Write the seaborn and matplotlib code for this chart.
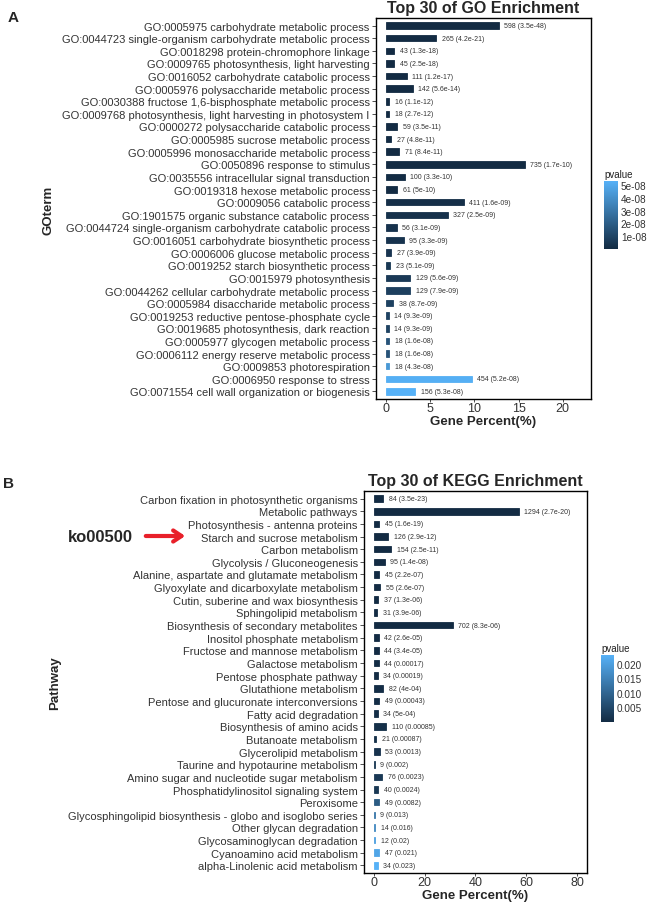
import numpy as np
import pandas as pd
import matplotlib as mpl
import matplotlib.pyplot as plt
import seaborn as sns
from matplotlib.colors import LinearSegmentedColormap, Normalize

# ---- GO enrichment (panel A) ----
go_terms = [
    "GO:0005975 carbohydrate metabolic process",
    "GO:0044723 single-organism carbohydrate metabolic process",
    "GO:0018298 protein-chromophore linkage",
    "GO:0009765 photosynthesis, light harvesting",
    "GO:0016052 carbohydrate catabolic process",
    "GO:0005976 polysaccharide metabolic process",
    "GO:0030388 fructose 1,6-bisphosphate metabolic process",
    "GO:0009768 photosynthesis, light harvesting in photosystem I",
    "GO:0000272 polysaccharide catabolic process",
    "GO:0005985 sucrose metabolic process",
    "GO:0005996 monosaccharide metabolic process",
    "GO:0050896 response to stimulus",
    "GO:0035556 intracellular signal transduction",
    "GO:0019318 hexose metabolic process",
    "GO:0009056 catabolic process",
    "GO:1901575 organic substance catabolic process",
    "GO:0044724 single-organism carbohydrate catabolic process",
    "GO:0016051 carbohydrate biosynthetic process",
    "GO:0006006 glucose metabolic process",
    "GO:0019252 starch biosynthetic process",
    "GO:0015979 photosynthesis",
    "GO:0044262 cellular carbohydrate metabolic process",
    "GO:0005984 disaccharide metabolic process",
    "GO:0019253 reductive pentose-phosphate cycle",
    "GO:0019685 photosynthesis, dark reaction",
    "GO:0005977 glycogen metabolic process",
    "GO:0006112 energy reserve metabolic process",
    "GO:0009853 photorespiration",
    "GO:0006950 response to stress",
    "GO:0071554 cell wall organization or biogenesis",
]
go_counts = [598, 265, 43, 45, 111, 142, 16, 18, 59, 27, 71, 735, 100, 61, 411,
             327, 56, 95, 27, 23, 129, 129, 38, 14, 14, 18, 18, 18, 454, 156]
go_pvalues = ["3.5e-48", "4.2e-21", "1.3e-18", "2.5e-18", "1.2e-17", "5.6e-14",
              "1.1e-12", "2.7e-12", "3.5e-11", "4.8e-11", "8.4e-11", "1.7e-10",
              "3.3e-10", "5e-10", "1.6e-09", "2.5e-09", "3.1e-09", "3.3e-09",
              "3.9e-09", "5.1e-09", "5.6e-09", "7.9e-09", "8.7e-09", "9.3e-09",
              "9.3e-09", "1.6e-08", "1.6e-08", "4.3e-08", "5.2e-08", "5.3e-08"]
go_percent = [12.78, 5.66, 0.92, 0.96, 2.37, 3.03, 0.34, 0.38, 1.26, 0.58, 1.52,
              15.71, 2.14, 1.30, 8.78, 6.99, 1.20, 2.03, 0.58, 0.49, 2.76, 2.76,
              0.81, 0.30, 0.30, 0.38, 0.38, 0.38, 9.70, 3.33]
go_xticks = [0, 5, 10, 15, 20]
go_cbar_ticks = [1e-08, 2e-08, 3e-08, 4e-08, 5e-08]
go_cbar_labels = ["1e-08", "2e-08", "3e-08", "4e-08", "5e-08"]

# ---- KEGG enrichment (panel B) ----
kegg_terms = [
    "Carbon fixation in photosynthetic organisms",
    "Metabolic pathways",
    "Photosynthesis - antenna proteins",
    "Starch and sucrose metabolism",
    "Carbon metabolism",
    "Glycolysis / Gluconeogenesis",
    "Alanine, aspartate and glutamate metabolism",
    "Glyoxylate and dicarboxylate metabolism",
    "Cutin, suberine and wax biosynthesis",
    "Sphingolipid metabolism",
    "Biosynthesis of secondary metabolites",
    "Inositol phosphate metabolism",
    "Fructose and mannose metabolism",
    "Galactose metabolism",
    "Pentose phosphate pathway",
    "Glutathione metabolism",
    "Pentose and glucuronate interconversions",
    "Fatty acid degradation",
    "Biosynthesis of amino acids",
    "Butanoate metabolism",
    "Glycerolipid metabolism",
    "Taurine and hypotaurine metabolism",
    "Amino sugar and nucleotide sugar metabolism",
    "Phosphatidylinositol signaling system",
    "Peroxisome",
    "Glycosphingolipid biosynthesis - globo and isoglobo series",
    "Other glycan degradation",
    "Glycosaminoglycan degradation",
    "Cyanoamino acid metabolism",
    "alpha-Linolenic acid metabolism",
]
kegg_counts = [84, 1294, 45, 126, 154, 95, 45, 55, 37, 31, 702, 42, 44, 44, 34,
               82, 49, 34, 110, 21, 53, 9, 76, 40, 49, 9, 14, 12, 47, 34]
kegg_pvalues = ["3.5e-23", "2.7e-20", "1.6e-19", "2.9e-12", "2.5e-11", "1.4e-08",
                "2.2e-07", "2.6e-07", "1.3e-06", "3.9e-06", "8.3e-06", "2.6e-05",
                "3.4e-05", "0.00017", "0.00019", "4e-04", "0.00043", "5e-04",
                "0.00085", "0.00087", "0.0013", "0.002", "0.0023", "0.0024",
                "0.0082", "0.013", "0.016", "0.02", "0.021", "0.023"]
kegg_percent = [3.71, 57.10, 1.99, 5.56, 6.80, 4.19, 1.99, 2.43, 1.63, 1.37, 30.98,
                1.85, 1.94, 1.94, 1.50, 3.62, 2.16, 1.50, 4.85, 0.93, 2.34, 0.40,
                3.35, 1.77, 2.16, 0.40, 0.62, 0.53, 2.07, 1.50]
kegg_xticks = [0, 20, 40, 60, 80]
kegg_cbar_ticks = [0.005, 0.010, 0.015, 0.020]
kegg_cbar_labels = ["0.005", "0.010", "0.015", "0.020"]

sns.set_style("white")
plt.rcParams['font.family'] = ['Liberation Sans', 'DejaVu Sans']

W, H = 647, 903
fig = plt.figure(figsize=(W / 100, H / 100), dpi=100)
cmap = LinearSegmentedColormap.from_list("gg", ["#132B43", "#56B1F7"])


def frac(x0, y0, x1, y1):
    # pixel box -> figure fraction
    return [x0 / W, 1 - y1 / H, (x1 - x0) / W, (y1 - y0) / H]


def draw_panel(box, cbox, terms, counts, pvals, percent, xticks, xlim,
               title, cticks, clabels):
    ax = fig.add_axes(frac(*box))
    pnum = [float(p) for p in pvals]
    norm = Normalize(vmin=min(pnum), vmax=max(pnum))
    df = pd.DataFrame({"term": terms, "percent": percent, "pvalue": pnum})
    pal = {t: cmap(norm(p)) for t, p in zip(terms, pnum)}
    sns.barplot(data=df, x="percent", y="term", hue="term", palette=pal,
                order=terms, width=0.52, saturation=1, legend=False, ax=ax)
    # thin outline in the fill colour so very short bars stay visible
    for bar in ax.patches:
        bar.set_edgecolor(bar.get_facecolor())
        bar.set_linewidth(0.6)
    for i, (pc, c, p) in enumerate(zip(percent, counts, pvals)):
        ax.annotate(f"{c} ({p})", (pc, i), xytext=(4, 0), textcoords="offset points",
                    ha="left", va="center", fontsize=5, color="#333333")
    ax.set_xlim(*xlim)
    ax.set_ylim(len(terms) - 0.4, -0.6)
    ax.set_xticks(xticks)
    ax.tick_params(axis="y", labelsize=8, length=3, width=0.6, color="#333333",
                   labelcolor="#333333", pad=1.5, left=True)
    ax.tick_params(axis="x", labelsize=9, length=2.5, width=0.6, color="#333333",
                   labelcolor="#333333", pad=0, bottom=True)
    ax.set_xlabel("")
    ax.set_ylabel("")
    for s in ax.spines.values():
        s.set_color("black")
        s.set_linewidth(1.0)
    ax.set_title(title, fontsize=11.5, fontweight="bold", pad=4)
    x0, y0, x1, y1 = box
    fig.text((x0 + x1) / 2 / W, 1 - (y1 + 22) / H, "Gene Percent(%)", fontsize=9.5,
             fontweight="bold", ha="center", va="center")

    cax = fig.add_axes(frac(*cbox))
    cb = fig.colorbar(mpl.cm.ScalarMappable(norm=norm, cmap=cmap), cax=cax)
    cb.outline.set_visible(False)
    cb.set_ticks(cticks)
    cb.set_ticklabels(clabels)
    cax.tick_params(length=2.5, width=0.5, color="white", direction="in",
                    labelsize=7.2, labelcolor="#333333", pad=2)
    cax.set_title("pvalue", fontsize=7, loc="left", pad=3, color="#222222")
    return ax


draw_panel((376, 19, 591, 400), (604, 182, 618, 250), go_terms, go_counts,
           go_pvalues, go_percent, go_xticks, (-1.13, 23.2),
           "Top 30 of GO Enrichment", go_cbar_ticks, go_cbar_labels)
draw_panel((364, 492, 587, 874), (601, 656, 614, 723), kegg_terms, kegg_counts,
           kegg_pvalues, kegg_percent, kegg_xticks, (-3.9, 83.9),
           "Top 30 of KEGG Enrichment", kegg_cbar_ticks, kegg_cbar_labels)

fig.text(48 / W, 1 - 210 / H, "GOterm", rotation=90, fontsize=9.5, fontweight="bold",
         ha="center", va="center")
fig.text(55 / W, 1 - 683 / H, "Pathway", rotation=90, fontsize=9.5, fontweight="bold",
         ha="center", va="center")
fig.text(8 / W, 1 - 18 / H, "A", fontsize=11, fontweight="bold", ha="left", va="center")
fig.text(3 / W, 1 - 484 / H, "B", fontsize=11, fontweight="bold", ha="left", va="center")

fig.text(68 / W, 1 - 538 / H, "ko00500", fontsize=12, fontweight="bold",
         ha="left", va="center")
fig.patches.append(mpl.patches.FancyArrowPatch(
    (143 / W, 1 - 537 / H), (188 / W, 1 - 537 / H), transform=fig.transFigure,
    arrowstyle="->,head_length=6,head_width=4", color="#E8202A", lw=3))

fig.savefig("out.png", dpi=100)
